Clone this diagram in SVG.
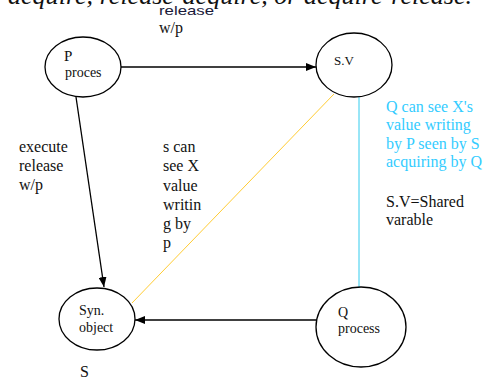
<svg xmlns="http://www.w3.org/2000/svg" width="487" height="381" viewBox="0 0 487 381">
<defs>
<marker id="arr" markerWidth="10" markerHeight="8" refX="10" refY="4" orient="auto" markerUnits="userSpaceOnUse">
<path d="M0,0 L10,4 L0,8 Z" fill="#000"/>
</marker>
<style>
.node{fill:#fff;stroke:#000;stroke-width:1.3}
.t{font-family:"Liberation Serif","Times New Roman",serif;fill:#111}
.lbl{font-size:16px}
.nl{font-size:14px}
.blue{fill:#33ccff}
.edge{stroke:#000;stroke-width:1.3;fill:none}
</style>
</defs>
<rect width="487" height="381" fill="#fff"/>
<text class="t" x="8" y="4" font-size="26" font-style="italic" textLength="464" lengthAdjust="spacingAndGlyphs">acquire, release-acquire, or acquire-release.</text>
<g id="connectors">
<line class="edge" x1="120" y1="67" x2="316" y2="67" marker-end="url(#arr)"/>
<line class="edge" x1="76" y1="97" x2="104" y2="287" marker-end="url(#arr)"/>
<line class="edge" x1="316" y1="320" x2="135" y2="320" marker-end="url(#arr)"/>
<line x1="334" y1="94" x2="132" y2="303" stroke="#ffcc33" stroke-width="1"/>
<line x1="359" y1="97" x2="359" y2="287" stroke="#33ccee" stroke-width="1"/>
</g>
<g id="node-p">
<ellipse class="node" cx="83" cy="67" rx="38" ry="30"/>
<text class="t" x="64" y="61" font-size="15">P</text>
<text class="t nl" x="65" y="77">proces</text>
</g>
<g id="node-sv">
<ellipse class="node" cx="354" cy="65" rx="38" ry="32"/>
<text class="t" x="334" y="65" font-size="13">S.V</text>
</g>
<g id="node-syn">
<ellipse class="node" cx="97" cy="319" rx="38" ry="31"/>
<text class="t nl" x="79" y="315">Syn.</text>
<text class="t nl" x="79" y="332">object</text>
</g>
<g id="node-q">
<ellipse class="node" cx="361" cy="327" rx="45" ry="40"/>
<text class="t nl" x="338" y="317">Q</text>
<text class="t nl" x="338" y="333">process</text>
</g>
<g id="labels">
<text x="159" y="15" font-family="Liberation Sans,Arial,sans-serif" font-size="13" fill="#1a1a3a" textLength="55" lengthAdjust="spacingAndGlyphs">release</text>
<text class="t lbl" x="159" y="33" fill="#1a1a3a">w/p</text>
<text class="t lbl" x="19" y="152">execute</text>
<text class="t lbl" x="19" y="171">release</text>
<text class="t lbl" x="19" y="190">w/p</text>
<text class="t lbl" x="163" y="152">s can</text>
<text class="t lbl" x="163" y="171">see X</text>
<text class="t lbl" x="163" y="191">value</text>
<text class="t lbl" x="163" y="210">writin</text>
<text class="t lbl" x="163" y="229">g by</text>
<text class="t lbl" x="163" y="248">p</text>
<text class="t lbl blue" x="386" y="112">Q can see X's</text>
<text class="t lbl blue" x="386" y="130">value writing</text>
<text class="t lbl blue" x="386" y="149">by P seen by S</text>
<text class="t lbl blue" x="386" y="167">acquiring by Q</text>
<text class="t lbl" x="386" y="207">S.V=Shared</text>
<text class="t lbl" x="386" y="225">varable</text>
<text class="t lbl" x="80" y="377">S</text>
</g>
</svg>
